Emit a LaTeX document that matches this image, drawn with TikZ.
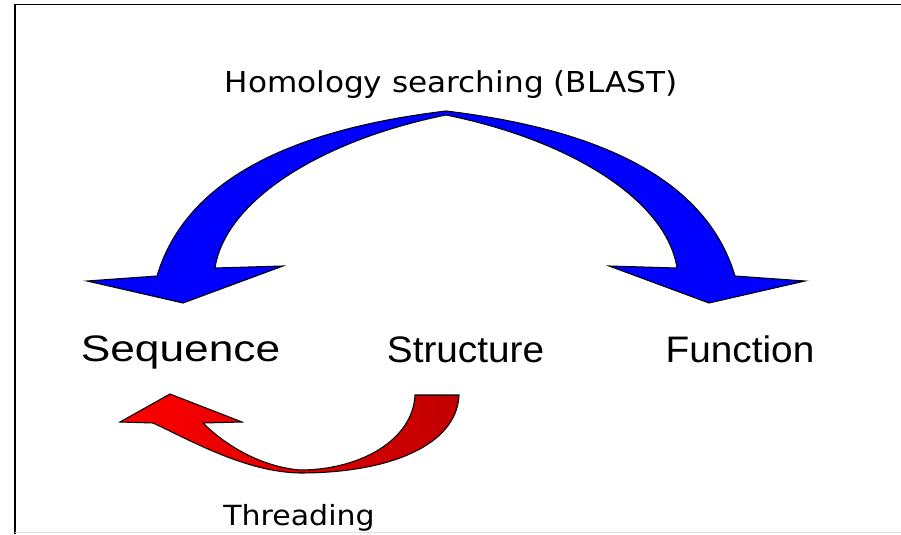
\documentclass[tikz,border=0pt]{standalone}
\usepackage{fontspec}
\setmainfont{Liberation Sans}
\newfontfamily\dejavu{DejaVu Sans}

\begin{document}
\begin{tikzpicture}[x=0.02cm,y=0.02cm,
  bluearrow/.style={draw=black,line width=0.6pt,fill=blue},
  redarrow/.style={draw=black,line width=0.6pt,left color=red,right color=red!75!black},
  term/.style={font=\fontsize{21}{25}\selectfont,anchor=base,inner sep=0pt,transform shape},
  method/.style={font=\dejavu\fontsize{16.4}{20}\selectfont,anchor=base,inner sep=0pt,xscale=1.08,transform shape}]

\useasboundingbox (0,0) rectangle (901,534);

% Frame
\draw[line width=1.1pt] (15,0)--(15,529.5)--(901,529.5);
\draw[gray!25] (15,1.5)--(901,1.5);

%------------------------------------------------
% TOP: Homology searching
%------------------------------------------------
\node[method] (homology) at (451,441) {Homology searching (BLAST)};

% Double arrow
\draw[bluearrow] (446,423) .. controls (280,403) and (184,348.5) .. (157,258)
  -- (87,253) -- (183,231) -- (283,268) -- (215,266)
  .. controls (225,332) and (318,393) .. (446,419)
  .. controls (574,393) and (667,332) .. (677,266)
  -- (609,268) -- (709,231) -- (805,253) -- (735,258)
  .. controls (708,348.5) and (612,403) .. (446,423) -- cycle;

%------------------------------------------------
% MIDDLE: Terms
%------------------------------------------------
\node[term,xscale=1.2] (seq) at (180.5,173) {Sequence};
\node[term,xscale=1.05] (struct) at (465.5,172) {Structure};
\node[term,xscale=1.05] (func) at (740,172) {Function};

%------------------------------------------------
% BOTTOM: Threading
%------------------------------------------------
\draw[redarrow] (415,139) -- (459,139)
  .. controls (457,89) and (390,61) .. (300,61)
  .. controls (245,62) and (190,94) .. (153,111)
  -- (120,112) -- (170,140) -- (242,112) -- (203,111)
  .. controls (220,94) and (255,68) .. (300,64)
  .. controls (360,64) and (413,94) .. (415,139) -- cycle;

\node[method,font=\dejavu\fontsize{15.8}{19}\selectfont] (threading) at (299,9) {Threading};

\end{tikzpicture}
\end{document}
